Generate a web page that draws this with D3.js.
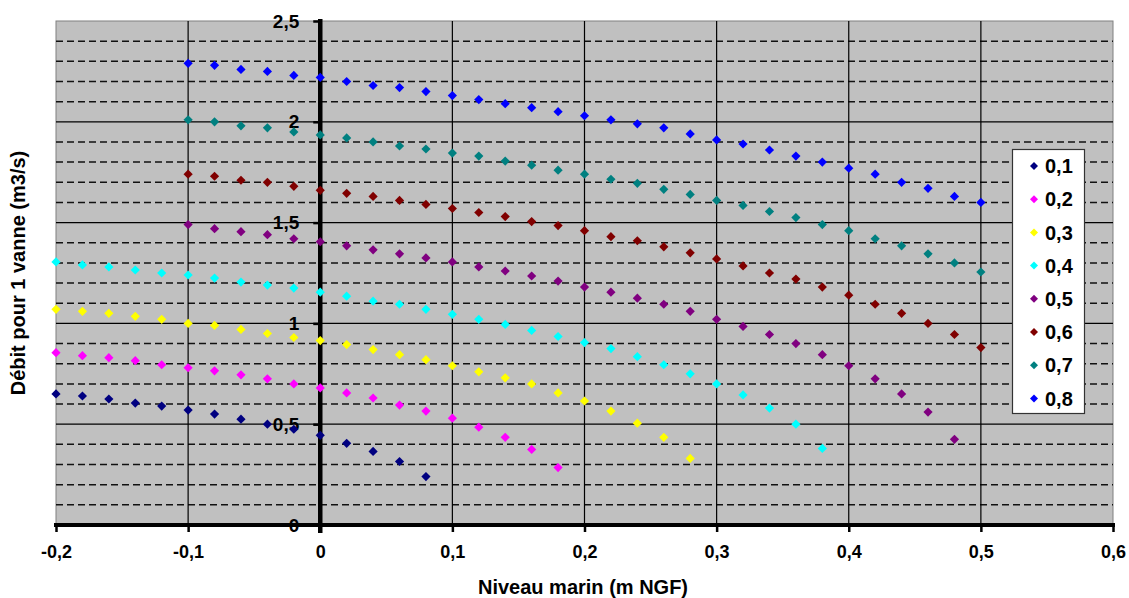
<!DOCTYPE html>
<html><head><meta charset="utf-8">
<script src="https://cdn.jsdelivr.net/npm/d3@7"></script>
<style>html,body{margin:0;padding:0;background:#fff;}svg{display:block;font-family:Arial,"Liberation Sans",sans-serif;}</style>
</head><body>
<svg id="chart" width="1129" height="598"></svg>
<script>
// ---- data ----
const niveau = [-0.2,-0.18,-0.16,-0.14,-0.12,-0.1,-0.08,-0.06,-0.04,-0.02,0,0.02,0.04,0.06,0.08,0.1,0.12,0.14,0.16,0.18,0.2,0.22,0.24,0.26,0.28,0.3,0.32,0.34,0.36,0.38,0.4,0.42,0.44,0.46,0.48,0.5];
const seriesNames = ["0,1","0,2","0,3","0,4","0,5","0,6","0,7","0,8"];
const seriesColors = ["#000080","#FF00FF","#FFFF00","#00FFFF","#800080","#800000","#008080","#0000FF"];
const s01 = [0.65,0.64,0.625,0.605,0.59,0.57,0.55,0.525,0.50,0.475,0.445,0.405,0.365,0.315,0.24,null,null,null,null,null,null,null,null,null,null,null,null,null,null,null,null,null,null,null,null,null];
const s02 = [0.855,0.84,0.83,0.815,0.795,0.78,0.765,0.745,0.725,0.70,0.68,0.655,0.63,0.595,0.565,0.53,0.485,0.435,0.375,0.285,null,null,null,null,null,null,null,null,null,null,null,null,null,null,null,null];
const s03 = [1.07,1.06,1.05,1.035,1.02,1.00,0.99,0.97,0.95,0.93,0.915,0.895,0.87,0.845,0.82,0.79,0.76,0.73,0.70,0.655,0.615,0.565,0.505,0.435,0.33,null,null,null,null,null,null,null,null,null,null,null];
const s04 = [1.305,1.29,1.28,1.265,1.25,1.24,1.225,1.205,1.19,1.175,1.155,1.135,1.11,1.095,1.07,1.045,1.02,0.995,0.965,0.935,0.905,0.875,0.835,0.795,0.75,0.70,0.645,0.58,0.50,0.38,null,null,null,null,null,null];
const s05 = [null,null,null,null,null,1.49,1.47,1.455,1.44,1.42,1.405,1.385,1.365,1.345,1.325,1.305,1.28,1.26,1.235,1.21,1.18,1.155,1.125,1.095,1.06,1.02,0.985,0.945,0.90,0.845,0.79,0.725,0.65,0.56,0.425,null];
const s06 = [null,null,null,null,null,1.74,1.73,1.71,1.70,1.68,1.66,1.645,1.63,1.61,1.59,1.57,1.55,1.53,1.505,1.485,1.46,1.43,1.41,1.38,1.35,1.32,1.285,1.25,1.22,1.18,1.14,1.095,1.05,1.00,0.945,0.88];
const s07 = [null,null,null,null,null,2.01,2.00,1.98,1.97,1.95,1.935,1.92,1.90,1.88,1.865,1.845,1.83,1.805,1.785,1.76,1.74,1.715,1.695,1.665,1.64,1.61,1.585,1.555,1.525,1.49,1.46,1.42,1.385,1.345,1.30,1.255];
const s08 = [null,null,null,null,null,2.29,2.28,2.26,2.25,2.23,2.22,2.20,2.18,2.17,2.15,2.13,2.11,2.09,2.07,2.05,2.03,2.01,1.99,1.97,1.94,1.91,1.89,1.86,1.83,1.80,1.77,1.74,1.70,1.67,1.63,1.60];
const seriesValues = [s01,s02,s03,s04,s05,s06,s07,s08];
const xTicks = [-0.2,-0.1,0,0.1,0.2,0.3,0.4,0.5,0.6];
const xTickLabels = ["-0,2","-0,1","0","0,1","0,2","0,3","0,4","0,5","0,6"];
const yTicks = [0,0.5,1,1.5,2,2.5];
const yTickLabels = ["0","0,5","1","1,5","2","2,5"];
const yMinor = [0.1,0.2,0.3,0.4,0.6,0.7,0.8,0.9,1.1,1.2,1.3,1.4,1.6,1.7,1.8,1.9,2.1,2.2,2.3,2.4];
const xTitle = "Niveau marin (m NGF)";
const yTitle = "Débit pour 1 vanne (m3/s)";

// ---- layout ----
const L = 56, R = 1113, T = 21, B = 525;
const svg = d3.select("#chart");
const x = d3.scaleLinear().domain([-0.2, 0.6]).range([L, R]);
const y = d3.scaleLinear().domain([0, 2.5]).range([B, T]);

// plot background
svg.append("rect").attr("x", L).attr("y", T).attr("width", R - L).attr("height", B - T)
  .attr("fill", "#C0C0C0").attr("stroke", "#808080").attr("stroke-width", 1);

// minor dashed horizontal grid
svg.append("g").selectAll("line").data(yMinor).join("line")
  .attr("x1", L).attr("x2", R).attr("y1", d => y(d)).attr("y2", d => y(d))
  .attr("stroke", "#111").attr("stroke-width", 1.5).attr("stroke-dasharray", "7,4");

// major horizontal grid
svg.append("g").selectAll("line").data(yTicks.filter(d => d > 0 && d < 2.5)).join("line")
  .attr("x1", L).attr("x2", R).attr("y1", d => y(d)).attr("y2", d => y(d))
  .attr("stroke", "#000").attr("stroke-width", 1.2);

// vertical grid
svg.append("g").selectAll("line").data(xTicks.filter(d => d > -0.2 && d < 0.6 && d !== 0)).join("line")
  .attr("x1", d => x(d)).attr("x2", d => x(d)).attr("y1", T).attr("y2", B)
  .attr("stroke", "#000").attr("stroke-width", 1.2);

// x axis (at y=0)
const xAxis = d3.axisBottom(x).tickValues(xTicks).tickFormat((d, i) => xTickLabels[i]).tickSize(7).tickPadding(13);
const gx = svg.append("g").attr("transform", `translate(0,${B})`).call(xAxis);
gx.attr("font-size", null).attr("font-family", null);
gx.select(".domain").remove();
gx.append("line").attr("x1", L - 2).attr("x2", R + 2).attr("y1", 0).attr("y2", 0).attr("stroke", "#000").attr("stroke-width", 4);
gx.selectAll(".tick line").attr("stroke", "#000").attr("stroke-width", 2.5);
gx.selectAll(".tick text").style("font-size", "18px").style("font-weight", "bold").attr("fill", "#000")
  .style("font-family", "Arial, 'Liberation Sans', sans-serif");

// y axis (at x=0)
const yAxis = d3.axisLeft(y).tickValues(yTicks).tickFormat((d, i) => yTickLabels[i]).tickSize(7).tickPadding(14);
const gy = svg.append("g").attr("transform", `translate(${x(0)},0)`).call(yAxis);
gy.attr("font-size", null).attr("font-family", null);
gy.select(".domain").remove();
gy.append("line").attr("x1", 0).attr("x2", 0).attr("y1", T - 2).attr("y2", B + 8).attr("stroke", "#000").attr("stroke-width", 4.5);
gy.selectAll(".tick line").attr("stroke", "#000").attr("stroke-width", 2.5);
gy.selectAll(".tick text").style("font-size", "19px").style("font-weight", "bold").attr("fill", "#000")
  .style("font-family", "Arial, 'Liberation Sans', sans-serif");

// markers
const diamond = (cx, cy, r) => `M${cx},${cy - r}L${cx + r},${cy}L${cx},${cy + r}L${cx - r},${cy}Z`;
seriesValues.forEach((vals, si) => {
  const pts = niveau.map((n, i) => ({ n, v: vals[i] })).filter(d => d.v !== null);
  svg.append("g").selectAll("path").data(pts).join("path")
    .attr("d", d => diamond(x(d.n), y(d.v), 4.6))
    .attr("fill", seriesColors[si]);
});

// legend
const lg = svg.append("g");
lg.append("rect").attr("x", 1012.5).attr("y", 149.5).attr("width", 72).attr("height", 264)
  .attr("fill", "#fff").attr("stroke", "#333").attr("stroke-width", 1.2);
seriesNames.forEach((name, i) => {
  const cy = 166 + i * 33.2;
  lg.append("path").attr("d", diamond(1034, cy, 4)).attr("fill", seriesColors[i]);
  lg.append("text").attr("x", 1045).attr("y", cy).attr("dy", "0.36em")
    .attr("font-size", 20).attr("font-weight", "bold").attr("fill", "#000").text(name);
});

// axis titles
svg.append("text").attr("x", 583).attr("y", 594).attr("text-anchor", "middle")
  .attr("font-size", 20).attr("font-weight", "bold").attr("fill", "#000").text(xTitle);
svg.append("text").attr("transform", "translate(25,273) rotate(-90)").attr("text-anchor", "middle")
  .attr("font-size", 20).attr("font-weight", "bold").attr("fill", "#000").text(yTitle);
</script>
</body></html>
